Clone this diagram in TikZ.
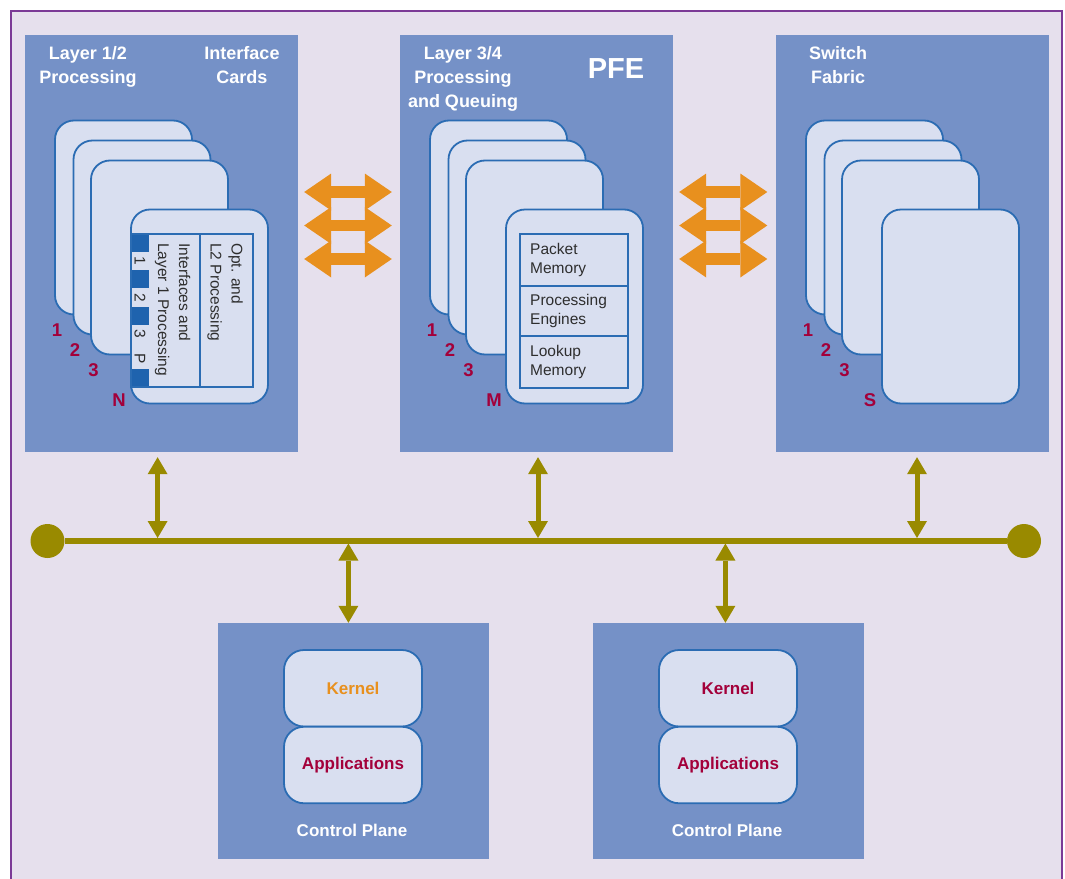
\documentclass[tikz,border=0pt]{standalone}
\usepackage{fontspec}
\setmainfont{Liberation Sans}
\usetikzlibrary{arrows.meta}

\definecolor{lavender}{HTML}{E6E0ED}
\definecolor{framec}{HTML}{7B3A96}
\definecolor{panelblue}{HTML}{7591C7}
\definecolor{cardfill}{HTML}{D9DFF0}
\definecolor{cardline}{HTML}{2B6CB3}
\definecolor{stripblue}{HTML}{1F63AE}
\definecolor{numred}{HTML}{A3003A}
\definecolor{orangec}{HTML}{E8901E}
\definecolor{olivec}{HTML}{998A00}
\definecolor{textgray}{HTML}{2E2E2E}

\tikzset{
  panel/.style={fill=panelblue, minimum width=273pt, minimum height=417.5pt, inner sep=0pt},
  card/.style={draw=cardline, fill=cardfill, line width=1.8pt, rounded corners=19pt,
    minimum width=137pt, minimum height=194pt, inner sep=0pt},
  cardno/.style={text=numred, font=\fontsize{18.5}{18.5}\selectfont\bfseries, inner sep=0pt},
  title/.style={text=white, align=center, font=\fontsize{18}{24}\selectfont\bfseries,
    inner sep=0pt, anchor=base},
  cell/.style={text=textgray, align=left, anchor=west, inner sep=0pt,
    font=\fontsize{15.5}{19}\selectfont},
  vtext/.style={rotate=-90, anchor=north west, align=left, inner sep=0pt,
    font=\fontsize{15.5}{21}\selectfont, text=textgray},
  vlabel/.style={rotate=-90, inner sep=0pt, font=\fontsize{15.5}{15.5}\selectfont, text=textgray},
  tableline/.style={draw=cardline, line width=1.5pt},
  harrow/.style={draw=orangec, line width=11.5pt,
    >={Triangle[length=27pt,width=37pt,line width=0pt]}, <->},
  vconn/.style={draw=olivec, line width=5pt,
    >={Triangle[length=17pt,width=20pt,line width=0pt]}, <->},
  bus/.style={draw=olivec, line width=5.5pt},
  busend/.style={circle, fill=olivec, minimum size=34pt, inner sep=0pt},
  cpbox/.style={fill=panelblue, minimum width=271pt, minimum height=236pt, inner sep=0pt},
  swbox/.style={draw=cardline, fill=cardfill, line width=1.8pt, rounded corners=20pt,
    minimum width=138pt, minimum height=76.5pt, inner sep=0pt,
    font=\fontsize{17}{17}\selectfont\bfseries},
  cplabel/.style={text=white, font=\fontsize{17}{17}\selectfont\bfseries, inner sep=0pt}
}

\begin{document}
\begin{tikzpicture}[x=1pt,y=-1pt]
\useasboundingbox (0,0) rectangle (1065,878);
\clip (0,0) rectangle (1065,878);
\fill[white] (0,0) rectangle (1065,878);
\draw[fill=lavender, draw=framec, line width=2pt] (10.5,11) rectangle (1062,900);

% --- the three forwarding stages ---
\node[panel] (p1) at (161.5,243.25) {};
\node[panel] (p2) at (536.5,243.25) {};
\node[panel] (p3) at (912.5,243.25) {};

% multi-line titles sit on the baseline of their last line
\node[title] (t1a) at (88,83) {Layer 1/2\\Processing};
\node[title] (t1b) at (242,83) {Interface\\Cards};
\node[title] (t2a) at (463,107) {Layer 3/4\\Processing\\and Queuing};
\node[text=white, font=\fontsize{29}{29}\selectfont\bfseries, inner sep=0pt, anchor=base]
  (t2b) at (616,78) {PFE};
\node[title] (t3a) at (838,83) {Switch\\Fabric};

% --- stacked cards in each stage ---
\foreach \i/\dx/\last in {1/0/N, 2/375/M, 3/751/S} {
  \begin{scope}[xshift=\dx pt]
    \node[card] (c\i a) at (123.5,217.5) {};
    \node[card] (c\i b) at (142,237.5) {};
    \node[card] (c\i c) at (159.5,257.5) {};
    \node[card] (c\i d) at (199.5,306.5) {};
    \node[cardno] (n\i a) at (57,330.5) {1};
    \node[cardno] (n\i b) at (75,350) {2};
    \node[cardno] (n\i c) at (93.5,370) {3};
    \node[cardno] (n\i d) at (119,400.5) {\last};
  \end{scope}
}

% --- interface card detail ---
\fill[stripblue] (131,234) rectangle (149,252);
\fill[stripblue] (131,270) rectangle (149,288);
\fill[stripblue] (131,307) rectangle (149,325);
\fill[stripblue] (131,368.5) rectangle (149,387);
\draw[tableline] (131,234) rectangle (253,387);
\draw[tableline] (200,234) -- (200,387);
\node[vlabel] (s1) at (140,261) {1};
\node[vlabel] (s2) at (140,297.5) {2};
\node[vlabel] (s3) at (140,334) {3};
\node[vlabel] (sp) at (140,359) {P};
\node[vtext] (ifl) at (190.5,243) {Interfaces and\\Layer 1 Processing};
\node[vtext] (opt) at (243,243) {Opt. and\\L2 Processing};

% --- PFE card detail ---
\draw[tableline] (520,234) rectangle (628,388);
\draw[tableline] (520,286) -- (628,286);
\draw[tableline] (520,336) -- (628,336);
\node[cell] (pm) at (530,260) {Packet\\Memory};
\node[cell] (pe) at (530,311) {Processing\\Engines};
\node[cell] (lm) at (530,362) {Lookup\\Memory};

% --- data path between stages ---
\foreach \y in {192,225.5,259} {
  \draw[harrow, shorten <=6pt, shorten >=8pt] (p1.east |- 0,\y) -- (p2.west |- 0,\y);
  \draw[harrow, shorten <=6pt, shorten >=8.5pt] (p2.east |- 0,\y) -- (p3.west |- 0,\y);
}

% --- control planes ---
\node[cpbox] (cp1) at (353.5,741) {};
\node[cpbox] (cp2) at (728.5,741) {};
\node[swbox, text=orangec] (k1) at (353,688.25) {Kernel};
\node[swbox, text=numred] (a1) at (353,765) {Applications};
\node[swbox, text=numred] (k2) at (728,688.25) {Kernel};
\node[swbox, text=numred] (a2) at (728,765) {Applications};
\node[cplabel] (cl1) at (352,830) {Control Plane};
\node[cplabel] (cl2) at (727,830) {Control Plane};

% --- internal bus ---
\node[busend] (bl) at (47.5,541) {};
\node[busend] (br) at (1024,541) {};
\draw[bus] (bl) -- (br);
\coordinate (u1) at (157.6,541);
\coordinate (u2) at (538,541);
\coordinate (u3) at (917,541);
\coordinate (d1) at (348.4,541);
\coordinate (d2) at (725.4,541);
\draw[vconn, shorten <=5pt, shorten >=3pt] (u1 |- p1.south) -- (u1);
\draw[vconn, shorten <=5pt, shorten >=3pt] (u2 |- p2.south) -- (u2);
\draw[vconn, shorten <=5pt, shorten >=3pt] (u3 |- p3.south) -- (u3);
\draw[vconn, shorten <=2.5pt] (d1) -- (d1 |- cp1.north);
\draw[vconn, shorten <=2.5pt] (d2) -- (d2 |- cp2.north);
\end{tikzpicture}
\end{document}
